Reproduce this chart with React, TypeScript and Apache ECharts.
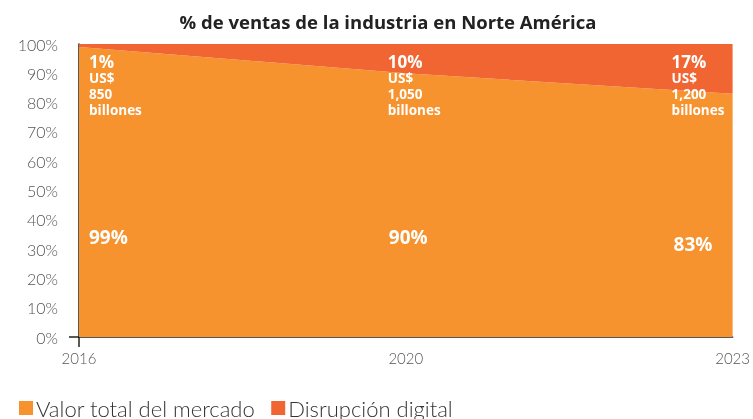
import React, { useEffect, useRef } from "react";
import * as echarts from "echarts";

const years = ["2016", "2020", "2023"];
const marketShare = [99, 90, 83];
const digitalShare = [1, 10, 17];
const digitalValue = ["850", "1,050", "1,200"];
const seriesNames = ["Valor total del mercado", "Disrupción digital"];
const titleText = "% de ventas de la industria en Norte América";

const MARKET_COLOR = "#F7932F";
const DIGITAL_COLOR = "#F16532";
const LIGHT_FONT = "Lato, 'Noto Sans', sans-serif";
const BOLD_FONT = "'Open Sans', 'Noto Sans', sans-serif";

export default function App() {
  const ref = useRef<HTMLDivElement>(null);
  useEffect(() => {
    const chart = echarts.init(ref.current!, null, { renderer: "svg" });
    const digitalPos = [[10, 8], [-18, 8], [-61, 8]];
    const marketPos = [[10, 190], [-17, 164], [-59, 150]];
    chart.setOption({
      animation: false,
      textStyle: { fontFamily: LIGHT_FONT },
      title: {
        text: titleText,
        left: 383,
        textAlign: "center",
        top: 7,
        textStyle: { fontFamily: BOLD_FONT, fontWeight: "bold", fontSize: 18.5, color: "#222" },
      },
      legend: {
        left: 14,
        top: 392,
        icon: "rect",
        itemWidth: 14,
        itemHeight: 14,
        itemGap: 16,
        textStyle: { fontFamily: LIGHT_FONT, fontWeight: 300, fontSize: 22, color: "#333", padding: [0, 0, 0, -2] },
        data: seriesNames,
      },
      grid: { left: 79, right: 5, top: 44, bottom: 82 },
      xAxis: {
        type: "category",
        data: years,
        boundaryGap: false,
        axisLine: { lineStyle: { color: "#222", width: 1.5 } },
        axisTick: { show: true, length: 10, interval: (i: number) => i === 0, lineStyle: { color: "#222", width: 1.5 } },
        axisLabel: { fontFamily: LIGHT_FONT, fontWeight: 300, fontSize: 15, color: "#555", margin: 13 },
      },
      yAxis: {
        type: "value",
        min: 0,
        max: 100,
        interval: 10,
        axisLine: { show: true, lineStyle: { color: "#222", width: 1.5 } },
        axisTick: { show: false },
        splitLine: { show: false },
        axisLabel: { formatter: "{value}%", fontFamily: LIGHT_FONT, fontWeight: 300, fontSize: 16, color: "#555", margin: 21 },
      },
      series: [
        {
          name: seriesNames[0],
          type: "line",
          stack: "total",
          symbol: "circle",
          symbolSize: 0,
          showSymbol: true,
          itemStyle: { color: MARKET_COLOR },
          lineStyle: { width: 0 },
          areaStyle: { color: MARKET_COLOR, opacity: 1 },
          data: marketShare.map((v, i) => ({
            value: v,
            label: {
              show: true,
              position: marketPos[i],
              align: "left",
              verticalAlign: "middle",
              formatter: `${v}%`,
              color: "#fff",
              fontFamily: BOLD_FONT,
              fontWeight: "bold",
              fontSize: 19,
            },
          })),
        },
        {
          name: seriesNames[1],
          type: "line",
          stack: "total",
          symbol: "circle",
          symbolSize: 0,
          showSymbol: true,
          itemStyle: { color: DIGITAL_COLOR },
          lineStyle: { width: 0 },
          areaStyle: { color: DIGITAL_COLOR, opacity: 1 },
          data: digitalShare.map((v, i) => ({
            value: v,
            label: {
              show: true,
              position: digitalPos[i],
              align: "left",
              verticalAlign: "top",
              formatter: `{a|${v}%}\n{b|US$}\n{b|${digitalValue[i]}}\n{b|billones}`,
              rich: {
                a: { color: "#fff", fontFamily: BOLD_FONT, fontWeight: "bold", fontSize: 17, lineHeight: 18 },
                b: { color: "#fff", fontFamily: BOLD_FONT, fontWeight: "bold", fontSize: 13.5, lineHeight: 16 },
              },
            },
          })),
        },
      ],
    });
    const origin = chart.convertToPixel({ gridIndex: 0 }, [0, 0]) as number[];
    if (origin) {
      chart.setOption({
        graphic: [
          {
            type: "line",
            shape: { x1: origin[0] - 10, y1: origin[1], x2: origin[0], y2: origin[1] },
            style: { stroke: "#222", lineWidth: 1.5 },
          },
        ],
      });
    }
    return () => chart.dispose();
  }, []);
  return <div ref={ref} style={{ position: "fixed", left: 0, top: 0, width: 753, height: 419 }} />;
}
